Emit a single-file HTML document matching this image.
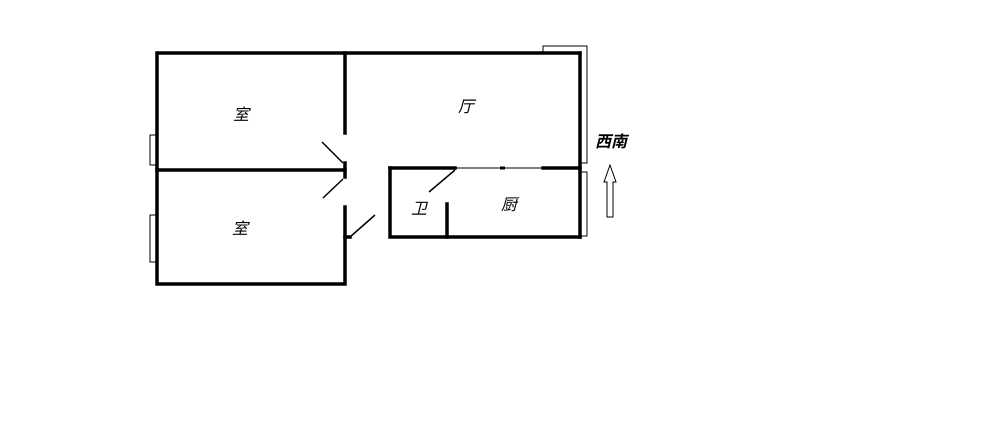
<!DOCTYPE html>
<html><head><meta charset="utf-8"><style>
html,body{margin:0;padding:0;background:#fff;width:1000px;height:442px;overflow:hidden}
svg text{font-family:"Liberation Sans","Noto Sans CJK SC",sans-serif;font-size:16px;font-style:italic;fill:#000}
</style></head><body>
<svg width="1000" height="442" xmlns="http://www.w3.org/2000/svg">
<g stroke="#000" stroke-width="3.5" fill="none" stroke-linecap="square">
<polyline points="580,53 157,53 157,284 345,284 345,207"/>
<line x1="157" y1="170" x2="345" y2="170"/>
<line x1="345" y1="53" x2="345" y2="133"/>
<line x1="345" y1="163" x2="345" y2="177"/>
<line x1="580" y1="53" x2="580" y2="237"/>
<polyline points="390,168 390,237 580,237"/>
<line x1="390" y1="168" x2="455" y2="168"/>
<line x1="543" y1="168" x2="580" y2="168"/>
<line x1="447" y1="204" x2="447" y2="237"/>
<line x1="345" y1="237" x2="350" y2="237"/>
</g>
<g stroke="#000" stroke-width="1.5" fill="none">
<line x1="322" y1="142" x2="343" y2="163"/>
<line x1="343" y1="179" x2="323" y2="198"/>
<line x1="350" y1="237" x2="375" y2="215"/>
<line x1="455" y1="170" x2="429" y2="192"/>
<line x1="455" y1="168" x2="543" y2="168" stroke-width="1"/>
<line x1="500" y1="168" x2="505" y2="168" stroke-width="3"/>
<rect x="150" y="135" width="7" height="30" stroke-width="1"/>
<rect x="150" y="215" width="7" height="47" stroke-width="1"/>
<polyline points="543,53 543,46 587,46 587,163 580,163" stroke-width="1"/>
<rect x="580" y="172" width="7" height="64" stroke-width="1"/>
<polygon points="607,217 607,182 604,182 610,165 616,182 613,182 613,217" stroke-width="1"/>
</g>
<text x="233" y="120">室</text>
<text x="232" y="234">室</text>
<text x="458" y="112">厅</text>
<text x="411" y="214">卫</text>
<text x="501" y="210">厨</text>
<text x="595" y="147" font-weight="bold">西南</text>
</svg>
</body></html>
